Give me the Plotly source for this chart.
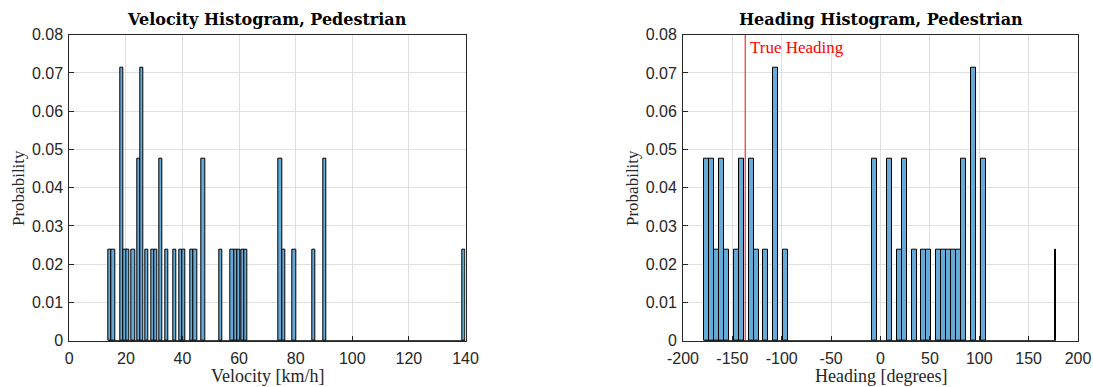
import plotly.graph_objects as go

# ---------------- data ----------------
vel_left_edges = [13.8, 15.0, 18.0, 19.15, 20.2, 22.0, 23.9, 25.0, 26.7, 28.9, 30.0,
                  31.8, 33.8, 36.7, 38.8, 39.9, 42.8, 43.9, 46.8, 52.9,
                  57.0, 58.2, 59.4, 60.6, 61.8, 74.0, 75.1, 78.9, 85.8, 89.7, 138.8]
vel_prob = [0.0238, 0.0238, 0.0714, 0.0238, 0.0238, 0.0238, 0.0476, 0.0714, 0.0238, 0.0238, 0.0238,
            0.0476, 0.0238, 0.0238, 0.0238, 0.0238, 0.0238, 0.0238, 0.0476, 0.0238,
            0.0238, 0.0238, 0.0238, 0.0238, 0.0238, 0.0476, 0.0238, 0.0238, 0.0238, 0.0476, 0.0238]
vel_bin_width = 1.17

head_left_edges = [-178.5, -173.5, -168.5, -163.5, -158.5, -148.5, -143.5, -133.5, -128.5,
                   -118.5, -108.5, -98.5, -8.5, 6.5, 16.5, 21.5, 31.5, 41.5, 46.5,
                   56.5, 61.5, 66.5, 71.5, 76.5, 81.5, 91.5, 101.5]
head_prob = [0.0476, 0.0476, 0.0238, 0.0476, 0.0238, 0.0238, 0.0476, 0.0476, 0.0238,
             0.0238, 0.0714, 0.0238, 0.0476, 0.0476, 0.0238, 0.0476, 0.0238, 0.0238, 0.0238,
             0.0238, 0.0238, 0.0238, 0.0238, 0.0238, 0.0476, 0.0714, 0.0476]
head_bin_width = 5.0
head_last_edge = 176.9      # degenerate last bin
head_last_prob = 0.0238
head_last_width = 0.4

true_heading = -137.0

vel_ticks = [0, 20, 40, 60, 80, 100, 120, 140]
vel_ticktext = ["0", "20", "40", "60", "80", "100", "120", "140"]
head_ticks = [-200, -150, -100, -50, 0, 50, 100, 150, 200]
head_ticktext = ["-200", "-150", "-100", "-50", "0", "50", "100", "150", "200"]
prob_ticks = [0, 0.01, 0.02, 0.03, 0.04, 0.05, 0.06, 0.07, 0.08]
prob_ticktext = ["0", "0.01", "0.02", "0.03", "0.04", "0.05", "0.06", "0.07", "0.08"]

# ---------------- styling ----------------
BAR_FILL = "rgb(102,170,215)"
AX_COL = "#262626"
GRID_COL = "#e0e0e0"
TICK_FONT = dict(family="Liberation Sans, Arial, sans-serif", size=16, color=AX_COL)
SERIF = "Liberation Serif, Times New Roman, serif"

fig = go.Figure()

# velocity histogram
fig.add_trace(go.Scatter(x=[vel_left_edges[0], vel_left_edges[-1] + vel_bin_width], y=[0, 0],
                         mode="lines", line=dict(color="black", width=1.5),
                         xaxis="x", yaxis="y", showlegend=False, hoverinfo="skip"))
fig.add_trace(go.Bar(x=[e + vel_bin_width / 2 for e in vel_left_edges], y=vel_prob,
                     width=[vel_bin_width] * len(vel_left_edges),
                     marker=dict(color=BAR_FILL, line=dict(color="black", width=1)),
                     xaxis="x", yaxis="y", showlegend=False))

# heading histogram
fig.add_trace(go.Scatter(x=[head_left_edges[0], head_last_edge + head_last_width], y=[0, 0],
                         mode="lines", line=dict(color="black", width=1.5),
                         xaxis="x2", yaxis="y2", showlegend=False, hoverinfo="skip"))
fig.add_trace(go.Bar(x=[e + head_bin_width / 2 for e in head_left_edges] + [head_last_edge + head_last_width / 2],
                     y=head_prob + [head_last_prob],
                     width=[head_bin_width] * len(head_left_edges) + [head_last_width],
                     marker=dict(color=BAR_FILL, line=dict(color="black", width=1)),
                     xaxis="x2", yaxis="y2", showlegend=False))

axis_common = dict(showline=True, linecolor=AX_COL, linewidth=1, mirror=True,
                   showgrid=True, gridcolor=GRID_COL, gridwidth=1, zeroline=False,
                   ticks="inside", ticklen=5, tickcolor=AX_COL, tickfont=TICK_FONT,
                   tickmode="array", automargin=False)

y_dom = [46.3 / 387, 352.3 / 387]

fig.update_layout(
    width=1093, height=387,
    margin=dict(l=0, r=0, t=0, b=0),
    paper_bgcolor="white", plot_bgcolor="white",
    bargap=0,
    xaxis=dict(axis_common, domain=[69.3 / 1093, 465.5 / 1093], range=[0, 140],
               tickvals=vel_ticks, ticktext=vel_ticktext, anchor="y", ticklabelstandoff=3),
    yaxis=dict(axis_common, domain=y_dom, range=[0, 0.08],
               tickvals=prob_ticks, ticktext=prob_ticktext, anchor="x", ticklabelstandoff=2),
    xaxis2=dict(axis_common, domain=[683.0 / 1093, 1078.0 / 1093], range=[-200, 200],
                tickvals=head_ticks, ticktext=head_ticktext, anchor="y2", ticklabelstandoff=3),
    yaxis2=dict(axis_common, domain=y_dom, range=[0, 0.08],
                tickvals=prob_ticks, ticktext=prob_ticktext, anchor="x2", ticklabelstandoff=2),
)

# true heading line
fig.add_shape(type="line", xref="x2", yref="y2", x0=true_heading, x1=true_heading, y0=0, y1=0.08,
              line=dict(color="red", width=1))
fig.add_annotation(xref="x2", yref="y2", x=true_heading, y=0.08, xanchor="left", yanchor="top",
                   xshift=3, yshift=-1, text="True Heading", showarrow=False,
                   font=dict(family=SERIF, size=17, color="red"))

# titles and axis labels
title_font = dict(family="DejaVu Serif, serif", size=16, color="black")
xlabel_font = dict(family=SERIF, size=18, color=AX_COL)
ylabel_font = dict(family=SERIF, size=17, color=AX_COL)
for xc, txt in [((69.3 + 465.5) / 2 / 1093, "<b>Velocity Histogram, Pedestrian</b>"),
                ((683.0 + 1078.0) / 2 / 1093, "<b>Heading Histogram, Pedestrian</b>")]:
    fig.add_annotation(xref="paper", yref="paper", x=xc, y=1 - 19 / 387, xanchor="center", yanchor="middle",
                       text=txt, showarrow=False, font=title_font)
for xc, txt in [((69.3 + 465.5) / 2 / 1093, "Velocity [km/h]"),
                ((683.0 + 1078.0) / 2 / 1093, "Heading [degrees]")]:
    fig.add_annotation(xref="paper", yref="paper", x=xc, y=1 - 376 / 387, xanchor="center", yanchor="middle",
                       text=txt, showarrow=False, font=xlabel_font)
for xc in [18 / 1093, 632 / 1093]:
    fig.add_annotation(xref="paper", yref="paper", x=xc, y=1 - 188 / 387, xanchor="center", yanchor="middle",
                       text="Probability", textangle=-90, showarrow=False, font=ylabel_font)

fig.write_html("out.html")
